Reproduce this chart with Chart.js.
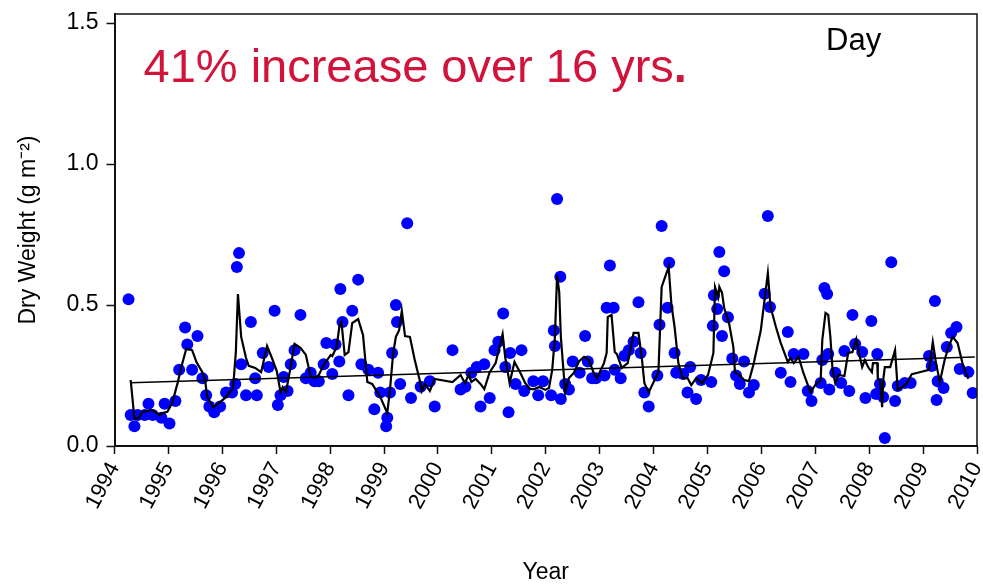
<!DOCTYPE html>
<html>
<head>
<meta charset="utf-8">
<script src="https://cdn.jsdelivr.net/npm/chart.js@4.4.1/dist/chart.umd.min.js"></script>
<style>
  html, body { margin: 0; padding: 0; background: #fff; }
  #wrap { width: 983px; height: 586px; }
</style>
</head>
<body>
<div id="wrap"><canvas id="graficoPeso" width="983" height="586"></canvas></div>
<script>
// Puntos (año decimal, peso seco)
const dotYears = [
  1994.26, 1994.30, 1994.37, 1994.43, 1994.56, 1994.63, 1994.71, 1994.87, 1994.93, 1995.02,
  1995.13, 1995.20, 1995.31, 1995.35, 1995.44, 1995.54, 1995.63, 1995.70, 1995.76, 1995.85,
  1995.96, 1996.07, 1996.18, 1996.24, 1996.27, 1996.31, 1996.35, 1996.44, 1996.53, 1996.61,
  1996.64, 1996.75, 1996.86, 1996.97, 1997.03, 1997.08, 1997.14, 1997.21, 1997.27, 1997.34,
  1997.45, 1997.55, 1997.64, 1997.71, 1997.79, 1997.88, 1997.93, 1998.04, 1998.10, 1998.17,
  1998.19, 1998.23, 1998.34, 1998.41, 1998.52, 1998.58, 1998.71, 1998.82, 1998.89, 1998.93,
  1999.04, 1999.06, 1999.11, 1999.15, 1999.22, 1999.24, 1999.30, 1999.43, 1999.50, 1999.68,
  1999.85, 1999.94, 2000.27, 2000.42, 2000.51, 2000.62, 2000.72, 2000.79, 2000.86, 2000.96,
  2001.05, 2001.12, 2001.21, 2001.25, 2001.31, 2001.34, 2001.44, 2001.55, 2001.60, 2001.77,
  2001.86, 2001.95, 2002.10, 2002.15, 2002.17, 2002.21, 2002.27, 2002.28, 2002.36, 2002.43,
  2002.50, 2002.63, 2002.73, 2002.78, 2002.86, 2002.93, 2003.09, 2003.13, 2003.19, 2003.26,
  2003.28, 2003.39, 2003.46, 2003.54, 2003.63, 2003.72, 2003.76, 2003.83, 2003.91, 2004.07,
  2004.11, 2004.15, 2004.26, 2004.29, 2004.39, 2004.42, 2004.55, 2004.63, 2004.68, 2004.79,
  2004.88, 2005.07, 2005.10, 2005.12, 2005.18, 2005.22, 2005.27, 2005.31, 2005.38, 2005.46,
  2005.53, 2005.60, 2005.68, 2005.77, 2005.86, 2006.06, 2006.12, 2006.16, 2006.36, 2006.49,
  2006.54, 2006.60, 2006.78, 2006.86, 2006.93, 2007.10, 2007.13, 2007.17, 2007.22, 2007.24,
  2007.26, 2007.37, 2007.48, 2007.54, 2007.63, 2007.69, 2007.74, 2007.87, 2007.93, 2008.04,
  2008.13, 2008.15, 2008.20, 2008.26, 2008.29, 2008.41, 2008.48, 2008.53, 2008.66, 2008.77,
  2009.11, 2009.16, 2009.22, 2009.25, 2009.27, 2009.38, 2009.44, 2009.52, 2009.62, 2009.68,
  2009.84, 2009.92
];
const dotValues = [
  0.52, 0.11, 0.07, 0.11, 0.11, 0.15, 0.11, 0.10, 0.15, 0.08,
  0.16, 0.27, 0.42, 0.36, 0.27, 0.39, 0.24, 0.18, 0.14, 0.12,
  0.14, 0.19, 0.19, 0.22, 0.635, 0.684, 0.29, 0.18, 0.44, 0.24,
  0.18, 0.33, 0.28, 0.48, 0.145, 0.18, 0.245, 0.195, 0.29, 0.34,
  0.465, 0.24, 0.26, 0.23, 0.23, 0.29, 0.365, 0.255, 0.36, 0.30,
  0.557, 0.44, 0.18, 0.48, 0.59, 0.29, 0.27, 0.13, 0.26, 0.19,
  0.07, 0.10, 0.19, 0.33, 0.50, 0.44, 0.22, 0.79, 0.17, 0.21,
  0.23, 0.14, 0.34, 0.20, 0.21, 0.26, 0.28, 0.14, 0.29, 0.17,
  0.34, 0.37, 0.47, 0.28, 0.12, 0.33, 0.22, 0.34, 0.195, 0.23,
  0.18, 0.23, 0.18, 0.41, 0.355, 0.876, 0.60, 0.167, 0.22, 0.20,
  0.30, 0.26, 0.39, 0.30, 0.24, 0.24, 0.25, 0.49, 0.64, 0.49,
  0.27, 0.24, 0.32, 0.34, 0.37, 0.51, 0.33, 0.19, 0.14, 0.25,
  0.43, 0.78, 0.49, 0.65, 0.33, 0.26, 0.255, 0.19, 0.28, 0.167,
  0.234, 0.227, 0.426, 0.535, 0.486, 0.688, 0.39, 0.62, 0.457, 0.31,
  0.25, 0.22, 0.30, 0.19, 0.216, 0.54, 0.816, 0.493, 0.26, 0.404,
  0.227, 0.326, 0.326, 0.195, 0.16, 0.223, 0.305, 0.56, 0.539, 0.326,
  0.20, 0.26, 0.223, 0.337, 0.195, 0.465, 0.362, 0.333, 0.17, 0.443,
  0.184, 0.326, 0.22, 0.174, 0.028, 0.652, 0.16, 0.213, 0.223, 0.223,
  0.319, 0.284, 0.514, 0.163, 0.23, 0.206, 0.351, 0.401, 0.422, 0.273,
  0.262, 0.188
];

// Media móvil (línea negra)
const avgYears = [
  1994.30, 1994.37, 1994.45, 1994.52, 1994.69, 1994.78, 1994.84, 1994.89, 1994.98, 1995.07,
  1995.17, 1995.24, 1995.33, 1995.44, 1995.52, 1995.63, 1995.68, 1995.72, 1995.83, 1995.94,
  1996.07, 1996.20, 1996.25, 1996.29, 1996.35, 1996.44, 1996.49, 1996.61, 1996.72, 1996.83,
  1996.92, 1997.01, 1997.08, 1997.12, 1997.18, 1997.25, 1997.34, 1997.45, 1997.55, 1997.64,
  1997.71, 1997.79, 1997.88, 1998.01, 1998.04, 1998.12, 1998.17, 1998.21, 1998.27, 1998.34,
  1998.41, 1998.52, 1998.61, 1998.69, 1998.78, 1998.93, 1999.06, 1999.11, 1999.17, 1999.22,
  1999.28, 1999.33, 1999.39, 1999.48, 1999.57, 1999.67, 1999.70, 1999.76, 1999.85, 1999.94,
  2000.27, 2000.42, 2000.50, 2000.57, 2000.62, 2000.70, 2000.79, 2000.86, 2000.96, 2001.07,
  2001.20, 2001.25, 2001.33, 2001.42, 2001.53, 2001.62, 2001.71, 2001.79, 2001.88, 2001.99,
  2002.06, 2002.12, 2002.17, 2002.21, 2002.25, 2002.28, 2002.36, 2002.43, 2002.52, 2002.62,
  2002.71, 2002.80, 2002.89, 2002.95, 2003.08, 2003.13, 2003.15, 2003.22, 2003.28, 2003.32,
  2003.41, 2003.52, 2003.63, 2003.72, 2003.78, 2003.83, 2003.91, 2004.02, 2004.09, 2004.15,
  2004.28, 2004.33, 2004.39, 2004.46, 2004.54, 2004.63, 2004.70, 2004.79, 2004.90, 2005.01,
  2005.11, 2005.14, 2005.20, 2005.22, 2005.27, 2005.31, 2005.40, 2005.48, 2005.51, 2005.59,
  2005.68, 2005.77, 2005.86, 2005.99, 2006.12, 2006.17, 2006.27, 2006.36, 2006.49, 2006.54,
  2006.60, 2006.69, 2006.78, 2006.91, 2007.00, 2007.10, 2007.13, 2007.19, 2007.24, 2007.28,
  2007.32, 2007.37, 2007.43, 2007.54, 2007.61, 2007.69, 2007.76, 2007.81, 2007.87, 2007.92,
  2007.98, 2008.05, 2008.07, 2008.15, 2008.16, 2008.20, 2008.24, 2008.26, 2008.29, 2008.39,
  2008.48, 2008.53, 2008.61, 2008.70, 2008.79, 2008.88, 2009.11, 2009.18, 2009.24, 2009.31,
  2009.40, 2009.47, 2009.55, 2009.64, 2009.73, 2009.79, 2009.84
];
const avgValues = [
  0.234, 0.096, 0.099, 0.121, 0.128, 0.117, 0.110, 0.117, 0.121, 0.152,
  0.223, 0.280, 0.344, 0.340, 0.298, 0.262, 0.234, 0.174, 0.138, 0.152,
  0.174, 0.206, 0.330, 0.539, 0.387, 0.312, 0.284, 0.277, 0.262, 0.355,
  0.312, 0.266, 0.191, 0.209, 0.191, 0.262, 0.362, 0.348, 0.323, 0.245,
  0.241, 0.252, 0.287, 0.323, 0.319, 0.351, 0.422, 0.440, 0.323, 0.333,
  0.436, 0.450, 0.394, 0.227, 0.220, 0.174, 0.117, 0.199, 0.330, 0.387,
  0.411, 0.479, 0.390, 0.387, 0.305, 0.227, 0.195, 0.220, 0.195, 0.238,
  0.227, 0.252, 0.223, 0.252, 0.227, 0.238, 0.220, 0.202, 0.262, 0.294,
  0.397, 0.312, 0.223, 0.298, 0.259, 0.223, 0.202, 0.202, 0.209, 0.199,
  0.206, 0.270, 0.387, 0.606, 0.546, 0.387, 0.191, 0.241, 0.259, 0.301,
  0.316, 0.305, 0.259, 0.241, 0.294, 0.330, 0.457, 0.465, 0.333, 0.326,
  0.277, 0.294, 0.401, 0.401, 0.316, 0.223, 0.191, 0.234, 0.262, 0.564,
  0.635, 0.504, 0.422, 0.294, 0.241, 0.241, 0.216, 0.241, 0.223, 0.252,
  0.330, 0.564, 0.528, 0.564, 0.543, 0.489, 0.436, 0.351, 0.262, 0.252,
  0.234, 0.230, 0.294, 0.411, 0.613, 0.493, 0.422, 0.365, 0.298, 0.312,
  0.294, 0.316, 0.259, 0.191, 0.216, 0.234, 0.376, 0.472, 0.465, 0.387,
  0.270, 0.223, 0.252, 0.248, 0.330, 0.333, 0.379, 0.330, 0.280, 0.305,
  0.280, 0.262, 0.294, 0.294, 0.238, 0.234, 0.138, 0.234, 0.280, 0.280,
  0.340, 0.199, 0.209, 0.223, 0.255, 0.259, 0.270, 0.369, 0.294, 0.227,
  0.305, 0.351, 0.387, 0.365, 0.294, 0.259, 0.238
];

// Recta de tendencia
const trendYears = [1994.30, 2009.96];
const trendValues = [0.224, 0.316];

// Marcas de los ejes
const yearTicks = ["1994", "1995", "1996", "1997", "1998", "1999", "2000", "2001", "2002",
  "2003", "2004", "2005", "2006", "2007", "2008", "2009", "2010"];
const weightTicks = [0.0, 0.5, 1.0, 1.5];

const headline = "41% increase over 16 yrs";
const seasonLabel = "Day";

const toPoints = (xs, ys) => xs.map((x, i) => ({ x: x, y: ys[i] }));
const FONT = '"Liberation Sans", Arial, sans-serif';

const decoraciones = {
  id: "decoraciones",
  afterDraw(chart) {
    const { ctx, chartArea: a } = chart;
    ctx.save();
    // marco superior y derecho
    ctx.strokeStyle = "#111";
    ctx.lineWidth = 1.5;
    ctx.beginPath();
    ctx.moveTo(a.left, a.top);
    ctx.lineTo(a.right, a.top);
    ctx.lineTo(a.right, a.bottom);
    ctx.stroke();
    // textos
    ctx.textBaseline = "alphabetic";
    ctx.fillStyle = "#d0143c";
    ctx.font = "47px " + FONT;
    const x0 = a.left + 29;
    ctx.fillText(headline, x0, 82);
    const w = ctx.measureText(headline).width;
    ctx.font = "bold 47px " + FONT;
    ctx.fillText(".", x0 + w, 82);
    ctx.fillStyle = "#000";
    ctx.font = "31px " + FONT;
    ctx.fillText(seasonLabel, 826, 50);
    ctx.restore();
  }
};

new Chart(document.getElementById("graficoPeso"), {
  type: "scatter",
  data: {
    datasets: [
      {
        label: "Media",
        type: "line",
        data: toPoints(avgYears, avgValues),
        borderColor: "#000",
        borderWidth: 2.2,
        pointRadius: 0,
        tension: 0,
        fill: false,
        order: 1
      },
      {
        label: "Tendencia",
        type: "line",
        data: toPoints(trendYears, trendValues),
        borderColor: "#000",
        borderWidth: 1.5,
        pointRadius: 0,
        fill: false,
        order: 2
      },
      {
        label: "Peso seco",
        data: toPoints(dotYears, dotValues),
        backgroundColor: "#0000ff",
        borderColor: "#0000ff",
        borderWidth: 0,
        pointRadius: 6,
        order: 3
      }
    ]
  },
  options: {
    responsive: false,
    animation: false,
    devicePixelRatio: 1,
    layout: { padding: { top: 14, right: 1, left: 0, bottom: 0 } },
    plugins: { legend: { display: false }, tooltip: { enabled: false } },
    scales: {
      x: {
        type: "linear",
        min: 1994,
        max: 2010,
        afterBuildTicks: s => { s.ticks = yearTicks.map(v => ({ value: Number(v) })); },
        afterFit: s => { s.height = 140; s.paddingLeft = 0; s.paddingRight = 0; },
        ticks: {
          autoSkip: false,
          minRotation: 62,
          maxRotation: 62,
          padding: 4,
          color: "#000",
          font: { family: FONT, size: 22 },
          callback: v => String(v)
        },
        grid: { drawOnChartArea: false, drawTicks: true, tickLength: 8, tickColor: "#111", tickWidth: 1.5 },
        border: { display: true, color: "#111", width: 2 },
        title: { display: true, text: "Year", color: "#000", font: { family: FONT, size: 23 }, padding: { top: 0, bottom: 0 } }
      },
      y: {
        min: 0,
        max: 1.532,
        afterBuildTicks: s => { s.ticks = weightTicks.map(v => ({ value: v })); },
        afterFit: s => { s.width = 114.5; s.paddingTop = 0; s.paddingBottom = 0; },
        ticks: {
          padding: 8,
          color: "#000",
          font: { family: FONT, size: 23 },
          callback: v => v.toFixed(1)
        },
        grid: { drawOnChartArea: false, drawTicks: true, tickLength: 8, tickColor: "#111", tickWidth: 1.5 },
        border: { display: true, color: "#111", width: 2 },
        title: { display: true, text: "Dry Weight (g m⁻²)", color: "#000", font: { family: FONT, size: 23 }, padding: { top: 15, bottom: 0 } }
      }
    }
  },
  plugins: [decoraciones]
});
</script>
</body>
</html>
